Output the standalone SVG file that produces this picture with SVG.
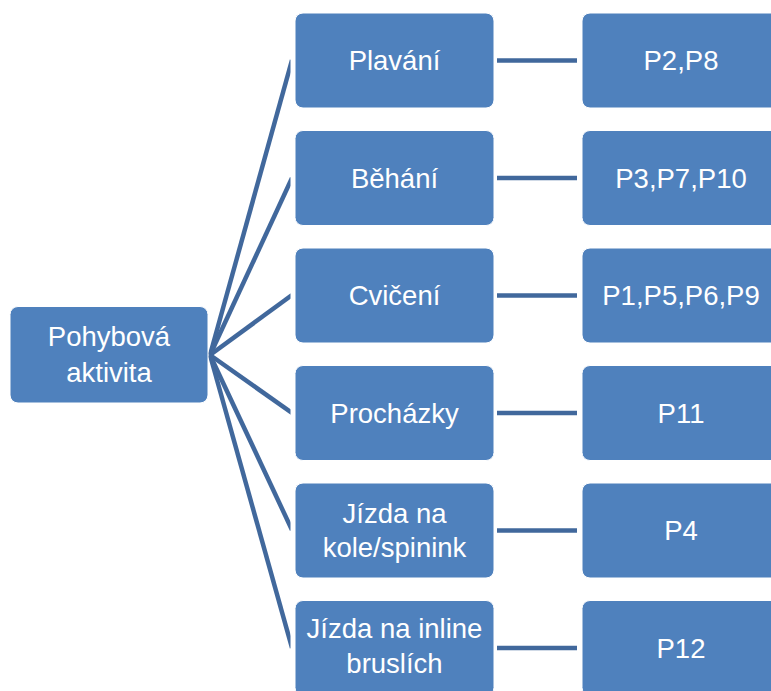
<svg xmlns="http://www.w3.org/2000/svg" width="771" height="691" viewBox="0 0 771 691">
<style>
.box{fill:#4f81bd;stroke:#ffffff;stroke-width:1}
.t{font-family:"Liberation Sans",Arial,sans-serif;font-size:27.5px;fill:#ffffff;text-anchor:middle}
.c{stroke:#41689c;stroke-width:4.5;fill:none}
</style>
<defs>
<clipPath id="fanclip"><rect x="0" y="0" width="290.5" height="691"/></clipPath>
</defs>
<rect width="771" height="691" fill="#ffffff"/>
<g id="connectors">
<g clip-path="url(#fanclip)">
<line class="c" x1="210" y1="355" x2="292" y2="60"/>
<line class="c" x1="210" y1="355" x2="292" y2="178"/>
<line class="c" x1="210" y1="355" x2="292" y2="295"/>
<line class="c" x1="210" y1="355" x2="292" y2="413"/>
<line class="c" x1="210" y1="355" x2="292" y2="530"/>
<line class="c" x1="210" y1="355" x2="292" y2="648"/>
</g>
<line class="c" x1="497" y1="60.5" x2="577" y2="60.5"/>
<line class="c" x1="497" y1="178" x2="577" y2="178"/>
<line class="c" x1="497" y1="295.5" x2="577" y2="295.5"/>
<line class="c" x1="497" y1="413" x2="577" y2="413"/>
<line class="c" x1="497" y1="530.5" x2="577" y2="530.5"/>
<line class="c" x1="497" y1="648" x2="577" y2="648"/>
</g>
<g id="root">
<rect class="box" x="10" y="306.5" width="198" height="96.5" rx="8"/>
<text class="t" x="109" y="346">Pohybová</text>
<text class="t" x="109" y="382">aktivita</text>
</g>
<g id="plavani">
<rect class="box" x="295" y="13" width="199" height="95" rx="8"/>
<text class="t" x="394.5" y="70">Plavání</text>
</g>
<g id="behani">
<rect class="box" x="295" y="130.5" width="199" height="95" rx="8"/>
<text class="t" x="394.5" y="188">Běhání</text>
</g>
<g id="cviceni">
<rect class="box" x="295" y="248" width="199" height="95" rx="8"/>
<text class="t" x="394.5" y="305">Cvičení</text>
</g>
<g id="prochazky">
<rect class="box" x="295" y="365.5" width="199" height="95" rx="8"/>
<text class="t" x="394.5" y="423">Procházky</text>
</g>
<g id="kolo">
<rect class="box" x="295" y="483" width="199" height="95" rx="8"/>
<text class="t" x="394.5" y="523">Jízda na</text>
<text class="t" x="394.5" y="557">kole/spinink</text>
</g>
<g id="inline">
<rect class="box" x="295" y="600.5" width="199" height="95" rx="8"/>
<text class="t" x="394.5" y="638">Jízda na inline</text>
<text class="t" x="394.5" y="673">bruslích</text>
</g>
<g id="r1">
<rect class="box" x="582" y="13" width="199" height="95" rx="8"/>
<text class="t" x="681" y="70">P2,P8</text>
</g>
<g id="r2">
<rect class="box" x="582" y="130.5" width="199" height="95" rx="8"/>
<text class="t" x="681" y="188">P3,P7,P10</text>
</g>
<g id="r3">
<rect class="box" x="582" y="248" width="199" height="95" rx="8"/>
<text class="t" x="681" y="305">P1,P5,P6,P9</text>
</g>
<g id="r4">
<rect class="box" x="582" y="365.5" width="199" height="95" rx="8"/>
<text class="t" x="681" y="423">P11</text>
</g>
<g id="r5">
<rect class="box" x="582" y="483" width="199" height="95" rx="8"/>
<text class="t" x="681" y="540">P4</text>
</g>
<g id="r6">
<rect class="box" x="582" y="600.5" width="199" height="95" rx="8"/>
<text class="t" x="681" y="658">P12</text>
</g>
</svg>
